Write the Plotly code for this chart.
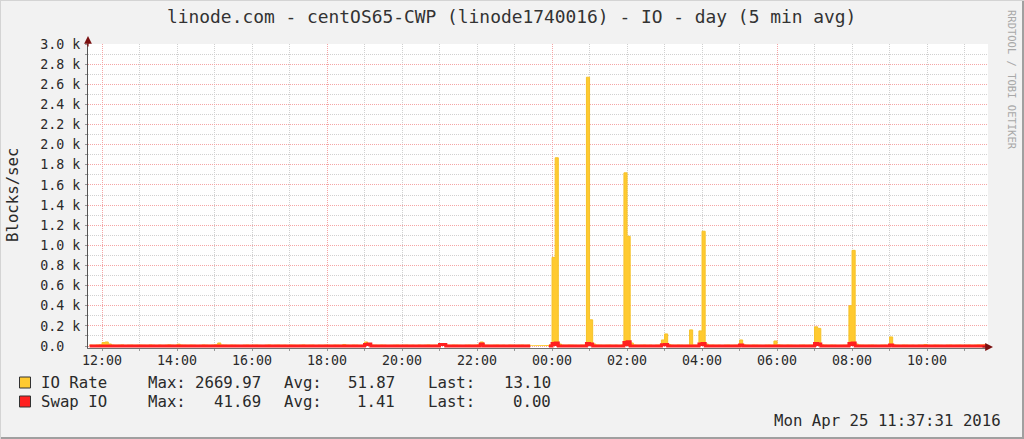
import pandas as pd
import plotly.graph_objects as go

nan = float("nan")

# ---------------- data (5-minute samples, starting 2016-04-24 11:40) ----------------
times = pd.date_range("2016-04-24 11:40", periods=288, freq="5min")

io_rows = [
    [9, 8, 10, 12],                                          # 11:40-11:55
    [35, 40, 20, 10, 8, 9, 11, 7, 9, 10, 8, 9],              # 12
    [10, 9, 8, 11, 9, 7, 10, 8, 9, 12, 9, 8],                # 13
    [18, 10, 9, 8, 10, 9, 7, 8, 11, 9, 8, 10],               # 14
    [12, 30, 10, 9, 8, 10, 9, 8, 7, 9, 10, 8],               # 15
    [9, 10, 8, 7, 9, 11, 8, 9, 10, 8, 9, 7],                 # 16
    [10, 9, 8, 9, 11, 8, 9, 10, 7, 9, 8, 10],                # 17
    [9, 8, 10, 9, 8, 15, 9, 8, 10, 9, 7, 9],                 # 18
    [40, 20, 10, 9, 8, 10, 9, 7, 8, 9, 10, 8],               # 19
    [9, 10, 8, 9, 7, 10, 8, 9, 11, 8, 9, 10],                # 20
    [20, 14, 9, 8, 10, 9, 8, 7, 9, 10, 8, 9],                # 21
    [12, 40, 10, 9, 8, 9, 10, 8, 9, 7, 10, 9],               # 22
    [8, 9, 10, 8, 9, 7, nan, nan, nan, nan, nan, 10],        # 23
    [880, 1870, 20, 9, 8, 10, 9, 8, 7, 9, 10, 2669.97],      # 00
    [260, 20, 10, 9, 8, 9, 10, 8, 9, 7, 10, 1720],           # 01
    [1090, 30, 10, 8, 9, 10, 8, 9, 7, 9, 10, 60],            # 02
    [120, 15, 9, 8, 10, 9, 8, 9, 160, 10, 9, 150],           # 03
    [1140, 20, 9, 10, 8, 9, 7, 9, 10, 8, 9, 10],             # 04
    [60, 12, 9, 8, 10, 9, 8, 7, 9, 10, 8, 50],               # 05
    [12, 9, 8, 10, 9, 8, 7, 9, 10, 8, 9, 10],                # 06
    [190, 175, 12, 9, 8, 10, 9, 7, 8, 9, 10, 400],           # 07
    [950, 20, 10, 9, 8, 9, 10, 8, 7, 9, 10, 8],              # 08
    [90, 12, 9, 8, 10, 9, 8, 9, 7, 10, 9, 15],               # 09
    [9, 8, 10, 9, 8, 7, 9, 10, 8, 9, 10, 8],                 # 10
    [9, 10, 8, 9, 11, 10, 12, 13.10],                        # 11:00-11:35
]

swap_rows = [
    [0, 0, 0, 0],
    [0, 0, 0, 0, 0, 0, 0, 0, 0, 0, 0, 0],
    [0, 0, 0, 0, 0, 0, 0, 0, 0, 0, 0, 0],
    [0, 0, 0, 0, 0, 0, 0, 0, 0, 0, 0, 0],
    [0, 0, 0, 0, 0, 0, 0, 0, 0, 0, 0, 0],
    [0, 0, 0, 0, 0, 0, 0, 0, 0, 0, 0, 0],
    [0, 0, 0, 0, 0, 0, 0, 0, 0, 0, 0, 0],
    [0, 0, 0, 0, 0, 0, 0, 0, 0, 0, 0, 0],
    [15, 20, 0, 0, 0, 0, 0, 0, 0, 0, 0, 0],
    [0, 0, 0, 0, 0, 0, 0, 0, 0, 0, 0, 0],
    [15, 15, 0, 0, 0, 0, 0, 0, 0, 0, 0, 0],
    [0, 20, 0, 0, 0, 0, 0, 0, 0, 0, 0, 0],
    [0, 0, 0, 0, 0, 0, nan, nan, nan, nan, nan, 0],
    [25, 30, 0, 0, 0, 0, 0, 0, 0, 0, 0, 25],
    [20, 0, 0, 0, 0, 0, 0, 0, 0, 0, 0, 35],
    [41.69, 0, 0, 0, 0, 0, 0, 0, 0, 0, 0, 12],
    [15, 0, 0, 0, 0, 0, 0, 0, 0, 0, 0, 20],
    [25, 0, 0, 0, 0, 0, 0, 0, 0, 0, 0, 0],
    [10, 0, 0, 0, 0, 0, 0, 0, 0, 0, 0, 0],
    [0, 0, 0, 0, 0, 0, 0, 0, 0, 0, 0, 0],
    [25, 20, 0, 0, 0, 0, 0, 0, 0, 0, 0, 25],
    [30, 0, 0, 0, 0, 0, 0, 0, 0, 0, 0, 0],
    [10, 0, 0, 0, 0, 0, 0, 0, 0, 0, 0, 0],
    [0, 0, 0, 0, 0, 0, 0, 0, 0, 0, 0, 0],
    [0, 0, 0, 0, 0, 0, 0, 0],
]

io_rate = [v for row in io_rows for v in row]
swap_io = [v for row in swap_rows for v in row]

y_tickvals = [0, 200, 400, 600, 800, 1000, 1200, 1400, 1600, 1800, 2000,
              2200, 2400, 2600, 2800, 3000]
y_ticktext = ["0.0\u00a0\u00a0", "0.2 k", "0.4 k", "0.6 k", "0.8 k", "1.0 k",
              "1.2 k", "1.4 k", "1.6 k", "1.8 k", "2.0 k", "2.2 k", "2.4 k",
              "2.6 k", "2.8 k", "3.0 k"]

series_names = ["IO Rate", "Swap IO"]
stat_max = ["2669.97", "41.69"]
stat_avg = ["51.87", "1.41"]
stat_last = ["13.10", "0.00"]

title_text = "linode.com - centOS65-CWP (linode1740016) - IO - day (5 min avg)"
date_text = "Mon Apr 25 11:37:31 2016"
x_start, x_end = "2016-04-24 11:37:31", "2016-04-25 11:37:31"

# ---------------- layout geometry ----------------
FW, FH = 1024, 439
L, R, T, B = 88, 36, 44, 91
W = FW - L - R
PH = FH - T - B
Y_MAX = 3000
Y_MIN = -2.0 * Y_MAX / (PH - 2.0)   # puts the zero line 2 px above the plot bottom


def fx(p):
    return (p - L) / W


def fy(p):
    return (FH - B - p) / PH


MONO = "DejaVu Sans Mono"
YELLOW = "#FFCA30"
RED = "#FF2020"
MGRID = "#F5A5A5"
GRID = "#D0D0D0"
TXT = "#2A2A2A"

fig = go.Figure()
fig.add_trace(go.Scatter(
    x=times, y=io_rate, mode="lines", connectgaps=False,
    line=dict(shape="hv", width=1, color="#F6C228"),
    fill="tozeroy", fillcolor=YELLOW, hoverinfo="skip", showlegend=False))
fig.add_trace(go.Scatter(
    x=times, y=swap_io, mode="lines", connectgaps=False, xaxis="x2",
    line=dict(shape="hv", width=3, color=RED),
    fill="tozeroy", fillcolor=RED, hoverinfo="skip", showlegend=False))

annotations = [
    dict(text=title_text, x=fx(511), y=fy(16), font=dict(family=MONO, size=17.9, color="#333")),
    dict(text="Blocks/sec", x=fx(12), y=fy(195), textangle=-90,
         font=dict(family=MONO, size=15.7, color=TXT)),
    dict(text="RRDTOOL / TOBI OETIKER", x=fx(1012), y=fy(80), textangle=90,
         font=dict(family=MONO, size=10.5, color="#A8A8A8")),
    dict(text=date_text, x=fx(1003), y=fy(420), xanchor="right",
         font=dict(family=MONO, size=15.7, color=TXT)),
]
row_y = [382, 401]
for i in range(2):
    f = dict(family=MONO, size=15.7, color=TXT)
    yy = fy(row_y[i])
    annotations += [
        dict(text=series_names[i], x=fx(39), y=yy, xanchor="left", font=f),
        dict(text="Max:", x=fx(145.5), y=yy, xanchor="left", font=f),
        dict(text=stat_max[i], x=fx(263), y=yy, xanchor="right", font=f),
        dict(text="Avg:", x=fx(281.5), y=yy, xanchor="left", font=f),
        dict(text=stat_avg[i], x=fx(397), y=yy, xanchor="right", font=f),
        dict(text="Last:", x=fx(425.5), y=yy, xanchor="left", font=f),
        dict(text=stat_last[i], x=fx(552.5), y=yy, xanchor="right", font=f),
    ]
for a in annotations:
    a.setdefault("xanchor", "center")
    a.update(xref="paper", yref="paper", showarrow=False, yanchor="middle")

# axis arrows
annotations += [
    dict(text="", xref="paper", yref="paper", x=0, y=fy(36), ax=0, ay=12,
         showarrow=True, arrowhead=2, arrowsize=1.3, arrowwidth=1.2, arrowcolor="#7A1010"),
    dict(text="", xref="paper", yref="paper", x=fx(993), y=fy(347), ax=-12, ay=0,
         showarrow=True, arrowhead=2, arrowsize=1.3, arrowwidth=1.2, arrowcolor="#7A1010"),
]

shapes = [
    # frame shading
    dict(type="rect", xref="paper", yref="paper", x0=fx(0), x1=fx(FW), y0=fy(FH), y1=fy(FH - 2),
         fillcolor="#A0A0A0", line=dict(width=0)),
    dict(type="rect", xref="paper", yref="paper", x0=fx(FW - 2), x1=fx(FW), y0=fy(FH), y1=fy(0),
         fillcolor="#A0A0A0", line=dict(width=0)),
    dict(type="rect", xref="paper", yref="paper", x0=fx(0), x1=fx(FW), y0=fy(1), y1=fy(0),
         fillcolor="#D4D4D4", line=dict(width=0)),
    dict(type="rect", xref="paper", yref="paper", x0=fx(0), x1=fx(1), y0=fy(FH), y1=fy(0),
         fillcolor="#D4D4D4", line=dict(width=0)),
    # legend swatches
    dict(type="rect", xref="paper", yref="paper", x0=fx(19.5), x1=fx(30.5), y0=fy(388), y1=fy(377),
         fillcolor=YELLOW, line=dict(color="#333", width=1)),
    dict(type="rect", xref="paper", yref="paper", x0=fx(19.5), x1=fx(30.5), y0=fy(407), y1=fy(396),
         fillcolor=RED, line=dict(color="#333", width=1)),
]

fig.update_layout(
    width=FW, height=FH,
    margin=dict(l=L, r=R, t=T, b=B, pad=0),
    paper_bgcolor="#F2F2F2", plot_bgcolor="#FFFFFF",
    showlegend=False, hovermode=False,
    annotations=annotations, shapes=shapes,
    xaxis=dict(
        type="date", range=[x_start, x_end], fixedrange=True, layer="below traces",
        showline=True, linecolor="#707070", linewidth=1, zeroline=False,
        tickformat="%H:%M", dtick=7200000, tick0="2016-04-24 00:00",
        ticks="outside", ticklen=2, tickcolor="#999999", ticklabelstandoff=-2,
        tickfont=dict(family=MONO, size=13.3, color=TXT),
        showgrid=True, gridcolor=GRID, griddash="1px,1px", gridwidth=1,
        minor=dict(dtick=3600000, tick0="2016-04-24 00:00", showgrid=True,
                   gridcolor=GRID, griddash="1px,1px", ticks="outside",
                   ticklen=2, tickcolor="#999999"),
    ),
    xaxis2=dict(
        type="date", range=[x_start, x_end], overlaying="x", anchor="y",
        fixedrange=True, showticklabels=False, ticks="", showline=False, zeroline=False,
        dtick=21600000, tick0="2016-04-24 00:00", layer="below traces",
        showgrid=True, gridcolor=MGRID, griddash="1px,1px", gridwidth=1,
    ),
    yaxis=dict(
        range=[Y_MIN, Y_MAX], fixedrange=True, tickmode="array",
        tickvals=y_tickvals, ticktext=y_ticktext,
        showline=True, linecolor="#555555", linewidth=1, zeroline=False,
        ticks="outside", ticklen=2, tickcolor="#999999", ticklabelstandoff=2,
        tickfont=dict(family=MONO, size=13.3, color=TXT),
        showgrid=True, gridcolor=MGRID, griddash="1px,1px", gridwidth=1,
        minor=dict(dtick=100, tick0=0, showgrid=True, gridcolor=GRID,
                   griddash="1px,1px", ticks="outside", ticklen=2, tickcolor="#999999"),
    ),
)

fig.write_html("out.html")
